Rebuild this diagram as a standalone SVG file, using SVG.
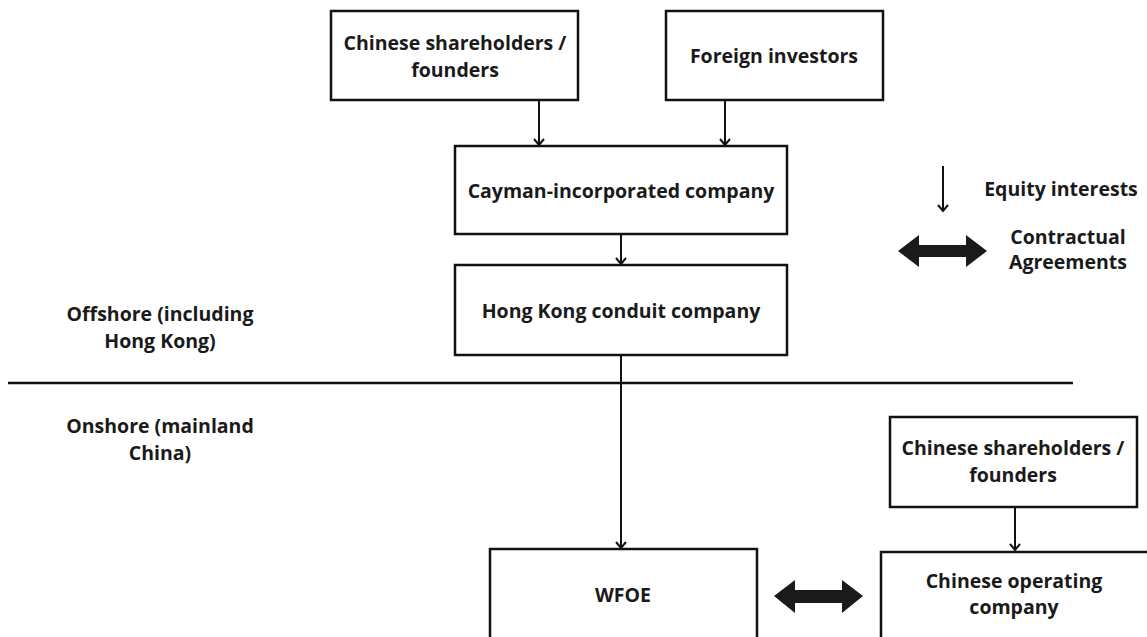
<svg xmlns="http://www.w3.org/2000/svg" width="1147" height="637" viewBox="0 0 1147 637">
<style>
.box{fill:#fff;stroke:#111;stroke-width:2.5}
.t{font-family:"Open Sans","Liberation Sans",sans-serif;font-weight:700;font-size:19.5px;fill:#1a1a1a;text-anchor:middle}
.c{stroke:#111;stroke-width:2;fill:none}
.dbl{fill:#1a1a1a}
</style>
<defs>
<marker id="ah" markerWidth="10" markerHeight="12" refX="8" refY="6" orient="auto" markerUnits="userSpaceOnUse" viewBox="0 0 10 12">
<polyline points="2,1 8,6 2,11" fill="none" stroke="#111" stroke-width="2"/>
</marker>
</defs>
<rect width="1147" height="637" fill="#fff"/>
<g id="connectors">
<line class="c" x1="539" y1="100" x2="539" y2="145" marker-end="url(#ah)"/>
<line class="c" x1="725" y1="100" x2="725" y2="145" marker-end="url(#ah)"/>
<line class="c" x1="621" y1="234" x2="621" y2="264" marker-end="url(#ah)"/>
<line class="c" x1="621" y1="355" x2="621" y2="548" marker-end="url(#ah)"/>
<line class="c" x1="1015" y1="507" x2="1015" y2="550" marker-end="url(#ah)"/>
<polygon class="dbl" points="774,596 795,580 795,590 842,590 842,580 863,596 842,613 842,603 795,603 795,613"/>
</g>
<g id="divider">
<line x1="8" y1="383" x2="1073" y2="383" stroke="#111" stroke-width="2.5"/>
</g>
<g id="n1">
<rect class="box" x="331" y="11" width="247" height="89"/>
<text class="t" x="455" y="50">Chinese shareholders /</text>
<text class="t" x="455" y="77">founders</text>
</g>
<g id="n2">
<rect class="box" x="666" y="11" width="217" height="89"/>
<text class="t" x="774" y="63">Foreign investors</text>
</g>
<g id="n3">
<rect class="box" x="455" y="146" width="332" height="88"/>
<text class="t" x="621" y="198">Cayman-incorporated company</text>
</g>
<g id="n4">
<rect class="box" x="455" y="265" width="332" height="90"/>
<text class="t" x="621" y="318">Hong Kong conduit company</text>
</g>
<g id="n5">
<rect class="box" x="490" y="549" width="267" height="100"/>
<text class="t" x="623" y="602">WFOE</text>
</g>
<g id="n6">
<rect class="box" x="890" y="417" width="247" height="90"/>
<text class="t" x="1013" y="455">Chinese shareholders /</text>
<text class="t" x="1013" y="482">founders</text>
</g>
<g id="n7">
<rect class="box" x="881" y="552" width="280" height="100"/>
<text class="t" x="1014" y="588">Chinese operating</text>
<text class="t" x="1014" y="614">company</text>
</g>
<g id="zones">
<text class="t" x="160" y="321">Offshore (including</text>
<text class="t" x="160" y="348">Hong Kong)</text>
<text class="t" x="160" y="433">Onshore (mainland</text>
<text class="t" x="160" y="460">China)</text>
</g>
<g id="legend">
<line class="c" x1="943" y1="166" x2="943" y2="211" marker-end="url(#ah)"/>
<text class="t" x="1061" y="196">Equity interests</text>
<polygon class="dbl" points="898,251 919,235 919,245 966,245 966,235 987,251 966,267 966,257 919,257 919,267"/>
<text class="t" x="1068" y="244">Contractual</text>
<text class="t" x="1068" y="269">Agreements</text>
</g>
</svg>
